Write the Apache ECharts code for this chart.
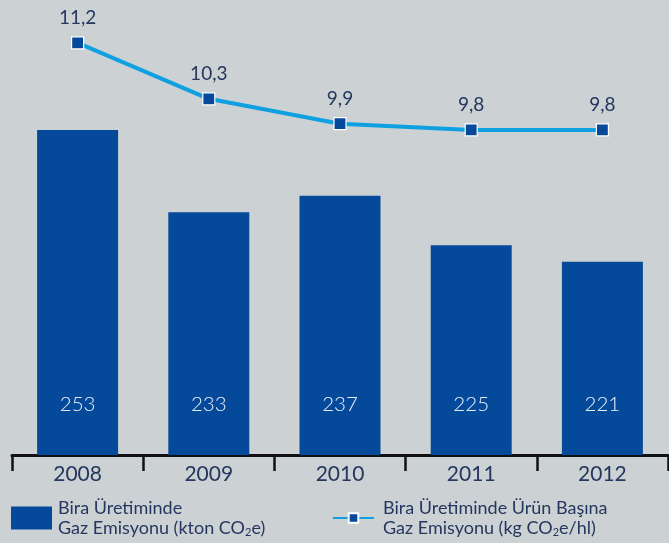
<!DOCTYPE html>
<html>
<head>
<meta charset="utf-8">
<script src="https://cdn.jsdelivr.net/npm/echarts@6/dist/echarts.min.js"></script>
<style>
html,body{margin:0;padding:0;background:#ccd1d4;}
#chart{width:669px;height:543px;}
</style>
</head>
<body>
<div id="chart"></div>
<script>
var years = ['2008', '2009', '2010', '2011', '2012'];
var emissionTotal = [253, 233, 237, 225, 221];
var emissionPerUnit = [11.2, 10.3, 9.9, 9.8, 9.8];
var barName = 'Bira Üretiminde\nGaz Emisyonu (kton CO{sub|2}e)';
var lineName = 'Bira Üretiminde Ürün Başına\nGaz Emisyonu (kg CO{sub|2}e/hl)';

var FONT = 'Lato';
var navy = '#25375f';
var barBlue = '#05499b';
var lineBlue = '#0ea0e0';

var legendRich = {
  sub: {fontSize: 11, lineHeight: 4, verticalAlign: 'bottom', color: navy, fontFamily: FONT}
};

var chart = echarts.init(document.getElementById('chart'));
chart.setOption({
  backgroundColor: '#ccd1d4',
  animation: false,
  textStyle: {fontFamily: FONT},
  grid: {left: 12, right: 1, top: 0, bottom: 88, containLabel: false},
  legend: [
    {
      data: [barName], left: 11, top: 498, padding: 0,
      icon: 'rect', itemWidth: 41, itemHeight: 23,
      textStyle: {fontFamily: FONT, fontSize: 18, lineHeight: 20, color: navy, rich: legendRich, padding: [0, 0, 0, 1]},
      formatter: function (n) { return n; }
    },
    {
      data: [lineName], left: 332, top: 498, padding: 0,
      itemWidth: 41, itemHeight: 12,
      textStyle: {fontFamily: FONT, fontSize: 18, lineHeight: 20, color: navy, rich: legendRich, padding: [0, 0, 0, 4]},
      formatter: function (n) { return n; }
    }
  ],
  xAxis: {
    type: 'category',
    data: years,
    boundaryGap: true,
    axisLine: {lineStyle: {color: '#111', width: 3}},
    axisTick: {show: true, length: 16, lineStyle: {color: '#111', width: 2.5}},
    axisLabel: {color: navy, fontSize: 21, fontFamily: FONT, margin: 9}
  },
  yAxis: [
    {type: 'value', min: 174, max: 284.6, show: false, splitLine: {show: false}},
    {type: 'value', min: 4.57, max: 11.89, show: false, splitLine: {show: false}}
  ],
  series: [
    {
      name: barName,
      type: 'bar',
      yAxisIndex: 0,
      data: emissionTotal,
      barWidth: 81,
      itemStyle: {color: barBlue},
      label: {
        show: true, position: 'insideBottom', distance: 40,
        color: '#eaf0f8', fontSize: 20.5, fontWeight: 300, fontFamily: FONT
      }
    },
    {
      name: lineName,
      type: 'line',
      yAxisIndex: 1,
      data: emissionPerUnit,
      symbol: 'rect',
      symbolSize: 12,
      lineStyle: {color: lineBlue, width: 4},
      itemStyle: {color: barBlue, borderColor: '#ffffff', borderWidth: 1.2},
      label: {
        show: true, position: 'top', distance: 9,
        color: navy, fontSize: 19, fontFamily: FONT,
        formatter: function (p) { return String(p.value).replace('.', ','); }
      },
      z: 5
    }
  ]
});
</script>
</body>
</html>
